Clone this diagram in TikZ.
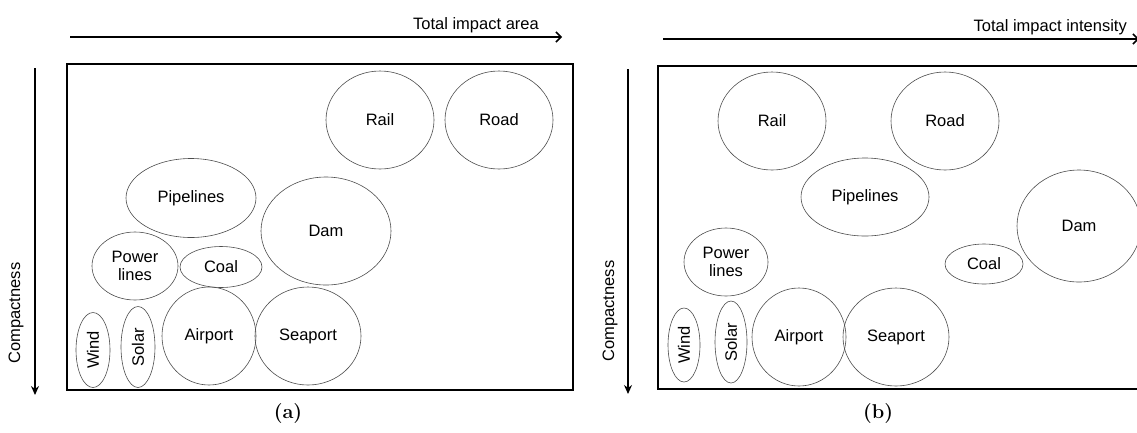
\documentclass[tikz,border=0pt]{standalone}
\usepackage{fontspec}
\setsansfont{Liberation Sans}
\usetikzlibrary{shapes.geometric,arrows.meta}
\begin{document}
\begin{tikzpicture}[x=1pt,y=-1pt,
  bub/.style={ellipse,draw=black!70,line width=0.6pt,inner sep=0pt,font=\sffamily\fontsize{16.5}{18.5}\selectfont,align=center},
  frame/.style={draw=black,line width=1.9pt},
  haxis/.style={line width=1.4pt,-{Straight Barb[length=5pt,width=10pt,line width=1.5pt]}},
  vaxis/.style={line width=1.4pt,-{Stealth[length=9pt,width=8pt]}},
  axlabel/.style={font=\sffamily\fontsize{16.5}{18.5}\selectfont,inner sep=0pt},
  panlabel/.style={font=\bfseries\fontsize{20}{22}\selectfont,inner sep=0pt}]
\useasboundingbox (0,0) rectangle (1137,432);
% ---------- panel (a) ----------
\coordinate (ha1) at (70,37);
\coordinate (ha2) at (562,37);
\draw[haxis] (ha1) -- (ha2);
\node[axlabel,anchor=base east] (hla) at (539,29) {Total impact area};
\coordinate (va1) at (35,68);
\coordinate (va2) at (35,395);
\draw[vaxis] (va1) -- (va2);
\node[axlabel,rotate=90] (vla) at (16,313) {Compactness};
\draw[frame] (67,64) rectangle (573,390);
\node[panlabel] (la) at (288,413) {(a)};
\node[bub,minimum width=108,minimum height=98] (railA) at (380,120) {Rail};
\node[bub,minimum width=108,minimum height=98] (roadA) at (499,120) {Road};
\node[bub,minimum width=130,minimum height=79] (pipeA) at (191,198) {Pipelines};
\node[bub,minimum width=130,minimum height=108] (damA) at (326,231) {Dam};
\node[bub,minimum width=86,minimum height=68] (powA) at (135,266) {Power\\lines};
\node[bub,minimum width=82,minimum height=41] (coalA) at (221,267) {Coal};
\node[bub,minimum width=34,minimum height=75] (windA) at (93,350) {\rotatebox{90}{Wind}};
\node[bub,minimum width=34,minimum height=81] (solarA) at (138,347) {\rotatebox{90}{Solar}};
\node[bub,minimum width=94,minimum height=98] (airA) at (209,336) {Airport};
\node[bub,minimum width=106,minimum height=98] (seaA) at (308,336) {Seaport};
% ---------- panel (b) ----------
\coordinate (hb1) at (663,39);
\coordinate (hb2) at (1139,39);
\draw[haxis] (hb1) -- (hb2);
\node[axlabel,anchor=base east] (hlb) at (1127,31) {Total impact intensity};
\coordinate (vb1) at (628,69);
\coordinate (vb2) at (628,394);
\draw[vaxis] (vb1) -- (vb2);
\node[axlabel,rotate=90] (vlb) at (610,311) {Compactness};
\draw[frame] (658,66) rectangle (1145,389);
\node[panlabel] (lb) at (878,413) {(b)};
\node[bub,minimum width=108,minimum height=98] (railB) at (772,121) {Rail};
\node[bub,minimum width=108,minimum height=98] (roadB) at (945,121) {Road};
\node[bub,minimum width=128,minimum height=78] (pipeB) at (865,197) {Pipelines};
\node[bub,minimum width=124,minimum height=112] (damB) at (1079,226) {Dam};
\node[bub,minimum width=78,minimum height=40] (coalB) at (984,264) {Coal};
\node[bub,minimum width=84,minimum height=68] (powB) at (726,262) {Power\\lines};
\node[bub,minimum width=32,minimum height=74] (windB) at (684,345) {\rotatebox{90}{Wind}};
\node[bub,minimum width=32,minimum height=82] (solarB) at (731,342) {\rotatebox{90}{Solar}};
\node[bub,minimum width=94,minimum height=98] (airB) at (799,337) {Airport};
\node[bub,minimum width=106,minimum height=98] (seaB) at (896,337) {Seaport};
\end{tikzpicture}
\end{document}
